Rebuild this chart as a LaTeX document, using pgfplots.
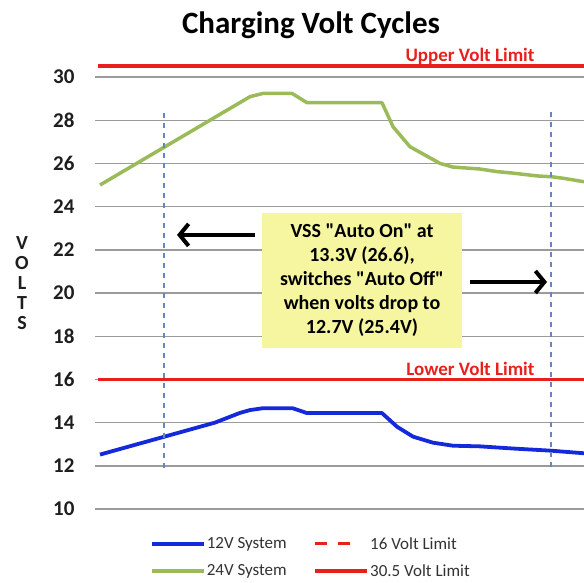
\documentclass[border=0pt]{standalone}
\usepackage{pgfplots}
\pgfplotsset{compat=1.18}
\usetikzlibrary{arrows.meta}
\usepackage{fontspec}
\setmainfont{Carlito}[Ligatures=TeXOff]
\definecolor{blueline}{RGB}{20,40,220}
\definecolor{greenline}{RGB}{155,187,89}
\definecolor{redline}{RGB}{232,32,28}
\definecolor{dashblue}{RGB}{100,135,195}
\definecolor{boxyellow}{RGB}{246,246,160}
\definecolor{gridgray}{RGB}{155,155,155}
\definecolor{ticktext}{RGB}{30,30,30}
\definecolor{legtext}{RGB}{50,50,50}
\begin{document}
\begin{tikzpicture}[x=1pt,y=1pt]
\path[use as bounding box] (-95,-73) rectangle (489,509);
\begin{axis}[
  at={(0,0)}, anchor=south west, scale only axis,
  width=489pt, height=453.6pt,
  xmin=95, xmax=584, ymin=10, ymax=31,
  axis line style={draw=none}, tick style={draw=none},
  xtick=\empty,
  ytick={10,12,...,30},
  ymajorgrids, grid style={gridgray, line width=1.4pt},
  yticklabel style={font=\bfseries\fontsize{21}{21}\selectfont, text=ticktext, xshift=-17pt},
  /pgf/number format/assume math mode=true,
  clip=false,
  legend columns=2,
  legend cell align=left,
  legend style={at={(0.106,-0.053)}, anchor=north west, draw=none, fill=none,
    font=\fontsize{17}{17}\selectfont, text=legtext, row sep=10pt,
    nodes={inner xsep=1pt},
    /tikz/every even column/.append style={column sep=26pt}},
  legend image code/.code={\draw[#1] (0pt,0pt) -- (52pt,0pt);},
]
% 12V system
\addplot[blueline, line width=3.8pt, line join=round] coordinates {
 (100,12.52) (215,14.0) (240,14.45) (250,14.58) (262,14.66) (293,14.66) (307,14.44) (382,14.44)
 (397,13.81) (413,13.35) (433,13.07) (453,12.93) (480,12.9) (513,12.8) (551,12.7) (584,12.58)};
\addlegendentry{12V System}
\addlegendimage{legend image code/.code={\draw[redline, line width=3pt] (0pt,0pt) -- (12pt,0pt) (23pt,0pt) -- (35pt,0pt);}}
\addlegendentry{16 Volt Limit}
% 24V system
\addplot[greenline, line width=3.5pt, line join=round] coordinates {
 (100,25.0) (250,29.09) (263,29.24) (292,29.24) (307,28.81) (382,28.81)
 (393,27.7) (410,26.77) (440,26.0) (453,25.83) (480,25.74) (497,25.62)
 (513,25.55) (537,25.42) (552,25.38) (565,25.3) (584,25.15)};
\addlegendentry{24V System}
% 30.5 limit
\addplot[redline, line width=3.5pt] coordinates {(98,30.5) (584,30.5)};
\addlegendentry{30.5 Volt Limit}
% 16 limit
\addplot[redline, line width=3.5pt, forget plot] coordinates {(98,16) (584,16)};
% dashed markers
\addplot[dashblue, line width=1.3pt, dash pattern=on 5pt off 5pt, forget plot] coordinates {(164,28.33) (164,11.8)};
\addplot[dashblue, line width=1.3pt, dash pattern=on 5pt off 5pt, forget plot] coordinates {(551,28.4) (551,11.8)};

\node[fill=boxyellow, minimum width=200pt, minimum height=135pt, align=center,
  font=\bfseries\fontsize{20}{24}\selectfont, inner sep=0pt] at (axis cs:362,20.58)
  {VSS "Auto On" at\\13.3V (26.6),\\switches "Auto Off"\\when volts drop to\\12.7V (25.4V)};
\draw[-{Straight Barb[length=9pt,width=22pt]}, line width=4pt] (axis cs:255,22.69) -- (axis cs:177,22.69);
\draw[-{Straight Barb[length=9pt,width=22pt]}, line width=4pt] (axis cs:470,20.51) -- (axis cs:547,20.51);

\node[font=\bfseries\fontsize{31}{31}\selectfont] at (axis cs:311,32.41) {Charging Volt Cycles};
\node[anchor=base east, text=redline, font=\bfseries\fontsize{19}{19}\selectfont] at (axis cs:538,30.72) {Upper Volt Limit};
\node[anchor=base east, text=redline, font=\bfseries\fontsize{19}{19}\selectfont] at (axis cs:538,16.2) {Lower Volt Limit};
\node[align=center, font=\bfseries\fontsize{20}{20}\selectfont, text=ticktext] at (axis cs:22,20.46) {V\\O\\L\\T\\S};
\end{axis}
\end{tikzpicture}
\end{document}
